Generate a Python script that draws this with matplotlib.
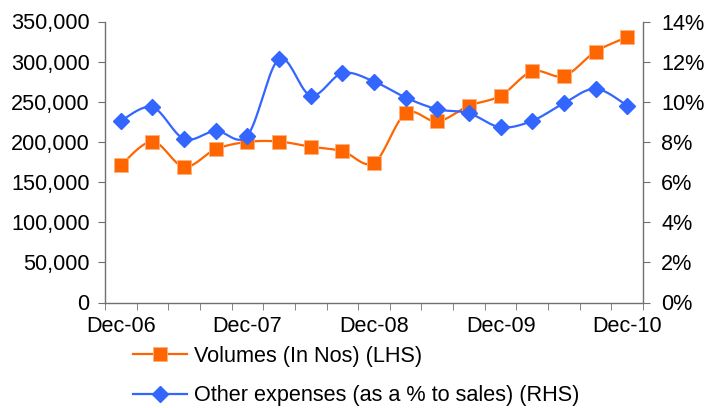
import numpy as np
import matplotlib
matplotlib.use("Agg")
from matplotlib import pyplot as plt
from matplotlib.ticker import FuncFormatter

plt.rcParams['font.family'] = ['Liberation Sans', 'DejaVu Sans']

# quarterly data, Dec-06 .. Dec-10
quarters = ["Dec-06", "Mar-07", "Jun-07", "Sep-07", "Dec-07", "Mar-08", "Jun-08",
            "Sep-08", "Dec-08", "Mar-09", "Jun-09", "Sep-09", "Dec-09", "Mar-10",
            "Jun-10", "Sep-10", "Dec-10"]
volumes = [171000, 200500, 169000, 191000, 200000, 200500, 194000, 188500, 174000,
           235500, 225500, 245000, 257500, 288000, 282000, 312500, 330500]
other_exp = [9.05, 9.73, 8.15, 8.55, 8.32, 12.13, 10.31, 11.43, 11.01, 10.21,
             9.63, 9.43, 8.73, 9.05, 9.93, 10.65, 9.81]
xlabels = ["Dec-06", "Dec-07", "Dec-08", "Dec-09", "Dec-10"]

ORANGE = "#FF6600"
BLUE = "#3366FF"
AXIS = "#707070"
FS = 15.6


def smooth(x, y, n=20):
    # catmull-rom curve through the points (like excel's smoothed line)
    x = np.asarray(x, float)
    y = np.asarray(y, float)
    px = np.concatenate([[x[0]], x, [x[-1]]])
    py = np.concatenate([[y[0]], y, [y[-1]]])
    xs, ys = [], []
    t = np.linspace(0, 1, n, endpoint=False)
    for i in range(1, len(px) - 2):
        for arr, out in ((px, xs), (py, ys)):
            p0, p1, p2, p3 = arr[i - 1], arr[i], arr[i + 1], arr[i + 2]
            c1 = p1 + (p2 - p0) / 6
            c2 = p2 - (p3 - p1) / 6
            out.extend((1 - t) ** 3 * p1 + 3 * (1 - t) ** 2 * t * c1
                       + 3 * (1 - t) * t ** 2 * c2 + t ** 3 * p2)
    xs.append(x[-1])
    ys.append(y[-1])
    return np.array(xs), np.array(ys)


x = np.arange(len(quarters))

fig = plt.figure(figsize=(7.19, 4.08), dpi=100)
ax = fig.add_axes([105 / 719, 105.5 / 408, 538 / 719, 281 / 408])
ax2 = ax.twinx()

sx, sy = smooth(x, volumes)
ax.plot(sx, sy, color=ORANGE, lw=1.6, zorder=2)
ax.plot(x, volumes, ls="none", marker="s", ms=9.5, color=ORANGE,
        mec="#FFB080", mew=0.6, zorder=3)

bx, by = smooth(x, other_exp)
ax2.plot(bx, by, color=BLUE, lw=1.6, zorder=2)
ax2.plot(x, other_exp, ls="none", marker="D", ms=8, color=BLUE, zorder=3)

ax.set_xlim(-0.5, len(quarters) - 0.5)
ax.set_ylim(0, 350000)
ax.set_yticks(np.arange(0, 350001, 50000))
ax.yaxis.set_major_formatter(FuncFormatter(lambda v, p: f"{int(v):,}"))
ax2.set_ylim(0, 14)
ax2.set_yticks(np.arange(0, 15, 2))
ax2.yaxis.set_major_formatter(FuncFormatter(lambda v, p: f"{int(v)}%"))

ax.set_xticks([quarters.index(q) for q in xlabels])
ax.set_xticklabels(xlabels)
ax.set_xticks(np.arange(-0.5, len(quarters)), minor=True)
ax.tick_params(axis="x", which="major", length=0, pad=10, labelsize=FS)
ax.tick_params(axis="x", which="minor", length=5, color=AXIS, direction="out")
ax.tick_params(axis="y", length=5, color=AXIS, pad=6, labelsize=FS)
ax2.tick_params(axis="y", length=5, color=AXIS, pad=8, labelsize=FS)

for a in (ax, ax2):
    a.spines["top"].set_visible(False)
    for s in ("left", "right", "bottom"):
        a.spines[s].set_color(AXIS)
        a.spines[s].set_linewidth(1.0)
ax.spines["right"].set_visible(False)
ax2.spines["left"].set_visible(False)
ax2.spines["bottom"].set_visible(False)

h1 = plt.Line2D([], [], color=ORANGE, lw=1.6, marker="s", ms=9.5,
                mec="#FFB080", mew=0.6)
h2 = plt.Line2D([], [], color=BLUE, lw=1.6, marker="D", ms=8)
fig.legend([h1, h2], ["Volumes (In Nos) (LHS)",
                      "Other expenses (as a % to sales) (RHS)"],
           loc="upper left", bbox_to_anchor=(133 / 719, 1 - 346 / 408),
           frameon=False, fontsize=FS, handlelength=2.5, handletextpad=0.3,
           labelspacing=0.85, borderpad=0, borderaxespad=0)

fig.savefig("out.png", dpi=100)
